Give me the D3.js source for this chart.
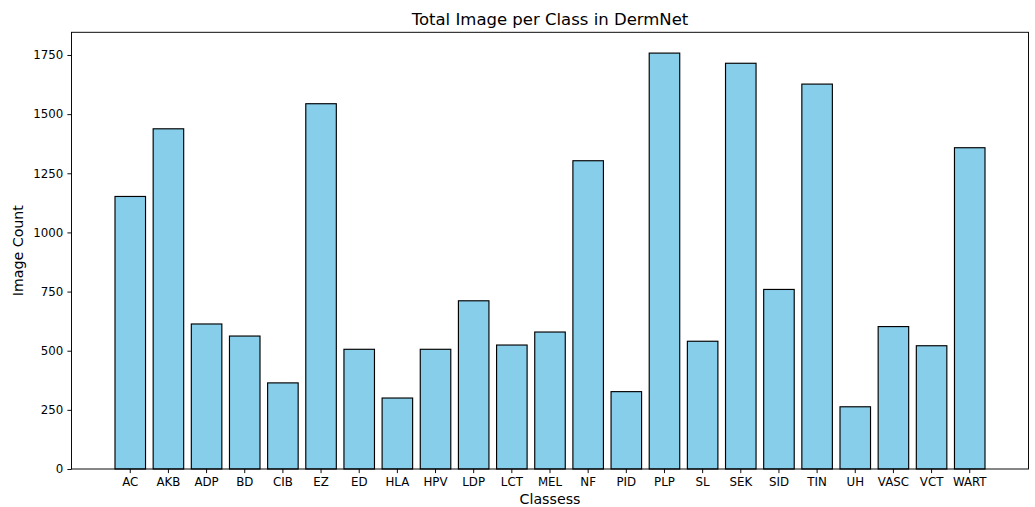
<!DOCTYPE html>
<html>
<head>
<meta charset="utf-8">
<script src="https://cdn.jsdelivr.net/npm/d3@7"></script>
<style>
  html, body { margin: 0; padding: 0; background: #fff; }
  svg { display: block; }
  text { font-family: "DejaVu Sans", sans-serif; fill: #000; }
</style>
</head>
<body>
<svg id="chart" width="1035" height="507"></svg>
<script>
const categories = ["AC","AKB","ADP","BD","CIB","EZ","ED","HLA","HPV","LDP","LCT","MEL","NF","PID","PLP","SL","SEK","SID","TIN","UH","VASC","VCT","WART"];
const counts = [1152, 1438, 613, 562, 364, 1544, 506, 300, 506, 711, 524, 579, 1303, 327, 1758, 540, 1715, 759, 1627, 263, 602, 521, 1358];
const yTicks = [0, 250, 500, 750, 1000, 1250, 1500, 1750];
const titleText = "Total Image per Class in DermNet";
const xLabelText = "Classess";
const yLabelText = "Image Count";

const W = 1035, H = 507;
const plot = { left: 71.5, right: 1028.5, top: 32.3, bottom: 469 };

const svg = d3.select("#chart");

const x = d3.scaleBand()
  .domain(categories)
  .range([plot.left, plot.right])
  .paddingInner(0.2)
  .paddingOuter(1.14);

const yMax = d3.max(counts) * 1.05;
const y = d3.scaleLinear()
  .domain([0, yMax])
  .range([plot.bottom, plot.top]);

// bars
svg.append("g")
  .selectAll("rect")
  .data(categories)
  .join("rect")
  .attr("x", d => x(d))
  .attr("width", x.bandwidth())
  .attr("y", (d, i) => y(counts[i]))
  .attr("height", (d, i) => y(0) - y(counts[i]))
  .attr("fill", "#87CEEB")
  .attr("stroke", "#000")
  .attr("stroke-width", 1.15);

// y axis
const yAxis = svg.append("g")
  .attr("transform", `translate(${plot.left},0)`)
  .call(d3.axisLeft(y).tickValues(yTicks).tickFormat(d3.format("d")).tickSize(4.1).tickPadding(4.1).tickSizeOuter(0));
yAxis.select(".domain").remove();
yAxis.selectAll(".tick line").attr("stroke", "#000").attr("stroke-width", 0.95);
yAxis.selectAll(".tick text")
  .attr("font-family", "DejaVu Sans, sans-serif")
  .attr("font-size", 11.8)
  .attr("fill", "#000");

// x axis
const xAxis = svg.append("g")
  .attr("transform", `translate(0,${plot.bottom})`)
  .call(d3.axisBottom(x).tickSize(4.1).tickPadding(4.1).tickSizeOuter(0));
xAxis.select(".domain").remove();
xAxis.selectAll(".tick line").attr("stroke", "#000").attr("stroke-width", 0.95);
xAxis.selectAll(".tick text")
  .attr("font-family", "DejaVu Sans, sans-serif")
  .attr("font-size", 11.8)
  .attr("fill", "#000");

// spines
svg.append("rect")
  .attr("x", plot.left)
  .attr("y", plot.top)
  .attr("width", plot.right - plot.left)
  .attr("height", plot.bottom - plot.top)
  .attr("fill", "none")
  .attr("stroke", "#000")
  .attr("stroke-width", 0.95);

// title
svg.append("text")
  .attr("x", (plot.left + plot.right) / 2)
  .attr("y", 25)
  .attr("text-anchor", "middle")
  .attr("font-size", 16.5)
  .text(titleText);

// x label
svg.append("text")
  .attr("x", (plot.left + plot.right) / 2)
  .attr("y", 503.5)
  .attr("text-anchor", "middle")
  .attr("font-size", 14.2)
  .text(xLabelText);

// y label
svg.append("text")
  .attr("transform", `translate(23,${(plot.top + plot.bottom) / 2}) rotate(-90)`)
  .attr("text-anchor", "middle")
  .attr("font-size", 14.2)
  .text(yLabelText);
</script>
</body>
</html>
